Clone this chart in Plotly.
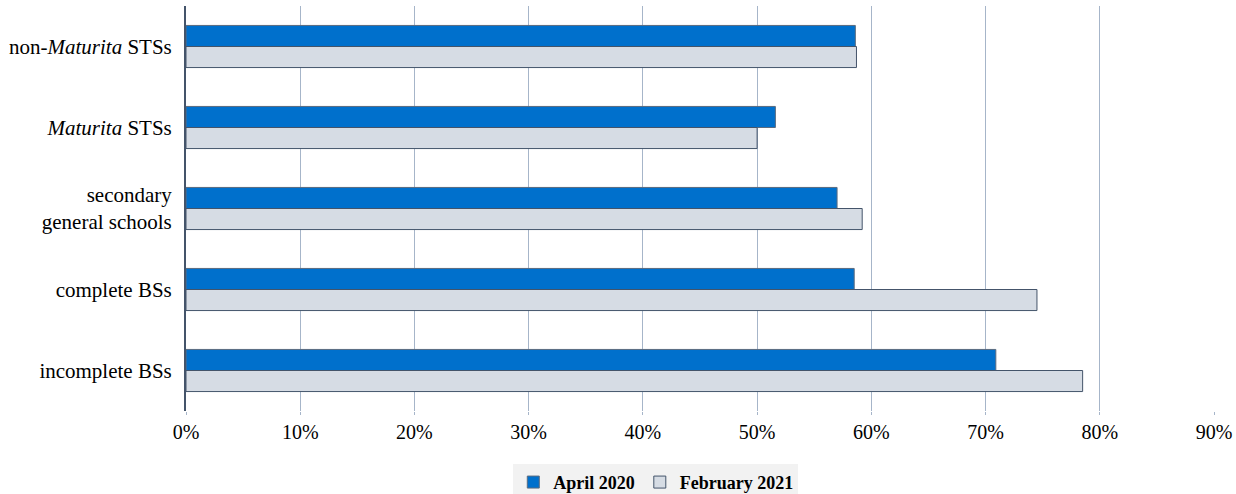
import plotly.graph_objects as go

# school types, top to bottom as in the chart
categories = [
    "non-<i>Maturita</i> STSs",
    "<i>Maturita</i> STSs",
    "secondary<br>general schools",
    "complete BSs",
    "incomplete BSs",
]
april_2020 = [0.586, 0.516, 0.570, 0.585, 0.709]
february_2021 = [0.587, 0.500, 0.592, 0.745, 0.785]

font_family = "Liberation Serif, Times New Roman, serif"

fig = go.Figure()

fig.add_trace(go.Bar(
    y=categories,
    x=april_2020,
    orientation='h',
    name='April 2020',
    marker=dict(color='#0070CC', line=dict(color='#5B6B7F', width=1)),
))

fig.add_trace(go.Bar(
    y=categories,
    x=february_2021,
    orientation='h',
    name='February 2021',
    marker=dict(color='#D6DCE4', line=dict(color='#44546A', width=1)),
))

fig.update_layout(
    width=1236,
    height=494,
    barmode='group',
    bargap=0.48,
    bargroupgap=0,
    plot_bgcolor='white',
    paper_bgcolor='white',
    font=dict(family=font_family, size=20, color='black'),
    margin=dict(l=186, r=22, t=6, b=83),
    xaxis=dict(
        range=[0, 0.9],
        dtick=0.1,
        tickformat='.0%',
        showgrid=True,
        gridcolor='#A6B5C9',
        gridwidth=1,
        zeroline=False,
        ticks='outside',
        ticklen=3,
        tickcolor='#A6B5C9',
        tickfont=dict(size=20),
        automargin=False,
    ),
    yaxis=dict(
        autorange='reversed',
        showline=True,
        linecolor='#44546A',
        linewidth=2,
        ticks='',
        ticklabelstandoff=8,
        tickfont=dict(size=21),
        automargin=False,
    ),
    legend=dict(
        orientation='h',
        x=0.457,
        xanchor='center',
        yref='container',
        y=0.061,
        yanchor='top',
        bgcolor='#F2F2F2',
        font=dict(family=font_family, size=18, color='black', weight='bold'),
        itemwidth=30,
    ),
)

# drop the default page margin so the figure sits at the window's corner
fig.write_html("out.html", config={'displayModeBar': False},
               post_script="document.body.style.margin='0';")
